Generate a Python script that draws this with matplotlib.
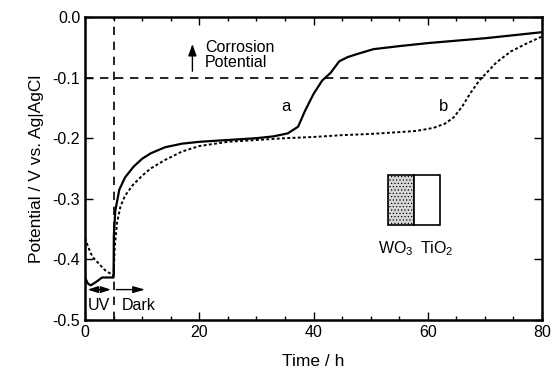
import numpy as np
import matplotlib.pyplot as plt
from matplotlib.ticker import MultipleLocator

plt.rcParams['font.family'] = ['Liberation Sans', 'DejaVu Sans']
plt.rcParams['mathtext.default'] = 'regular'
plt.rcParams['hatch.linewidth'] = 0.5

# Data
t_a = [0, 0.5, 1, 2, 3, 4, 5, 5.05, 5.3, 6, 7, 8.5, 10, 11.5, 14, 17, 20, 25, 30, 33, 35.5, 37.3,
       38.5, 40, 41.5, 43, 44.5, 46, 48, 50.5, 55, 60, 65, 70, 75, 80]
v_a = [-0.43, -0.44, -0.443, -0.437, -0.43, -0.43, -0.43, -0.36, -0.32, -0.285, -0.265, -0.247,
       -0.234, -0.225, -0.215, -0.209, -0.206, -0.203, -0.2, -0.197, -0.192, -0.181,
       -0.155, -0.127, -0.105, -0.092, -0.073, -0.066, -0.06, -0.053, -0.048, -0.043,
       -0.039, -0.035, -0.03, -0.025]

t_b = [0, 0.5, 1, 1.5, 2.5, 3.5, 4.5, 5, 5.2, 5.6, 6.2, 7, 8.4, 10, 11.5, 14, 17, 20, 25, 30, 35,
       40, 45, 50, 55, 58, 61, 63, 64.5, 66, 67.5, 69, 70.5, 72, 74.5, 77, 80]
v_b = [-0.365, -0.378, -0.39, -0.398, -0.408, -0.418, -0.424, -0.427, -0.38, -0.34, -0.313,
       -0.295, -0.277, -0.262, -0.25, -0.236, -0.222, -0.213, -0.206, -0.203, -0.2,
       -0.198, -0.195, -0.193, -0.19, -0.188, -0.183, -0.176, -0.166, -0.148, -0.125,
       -0.105, -0.09, -0.075, -0.057, -0.045, -0.032]

fig = plt.figure(figsize=(5.52, 3.79), dpi=100)
ax = fig.add_axes([0.154, 0.156, 0.828, 0.799])

ax.plot(t_a, v_a, color='black', lw=1.6)
ax.plot(t_b, v_b, color='black', lw=1.4, ls=(0, (1.5, 1.2)))

# reference lines
ax.axhline(-0.1, color='black', lw=1.2, ls=(0, (5, 4)))
ax.axvline(5, color='black', lw=1.2, ls=(0, (5, 4)))

# annotations
ax.annotate('', xy=(18.8, -0.04), xytext=(18.8, -0.094),
            arrowprops=dict(arrowstyle='-|>,head_width=0.25,head_length=0.7', color='black', lw=1))
ax.text(21, -0.062, 'Corrosion\nPotential', fontsize=11.5, va='center', ha='left', linespacing=1.0)

ax.annotate('', xy=(0, -0.45), xytext=(5, -0.45),
            arrowprops=dict(arrowstyle='<|-|>,head_width=0.2,head_length=0.6', color='black', lw=1))
ax.annotate('', xy=(11, -0.45), xytext=(5, -0.45),
            arrowprops=dict(arrowstyle='-|>,head_width=0.2,head_length=0.7', color='black', lw=1))
ax.text(2.5, -0.476, 'UV', fontsize=11.5, ha='center', va='center')
ax.text(6.5, -0.476, 'Dark', fontsize=11.5, ha='left', va='center')

ax.text(35.2, -0.147, 'a', fontsize=12, ha='center', va='center')
ax.text(62.7, -0.148, 'b', fontsize=12, ha='center', va='center')

# WO3 / TiO2 inset
ax.add_patch(plt.Rectangle((53, -0.343), 4.6, 0.082, facecolor='#d8d8d8', edgecolor='black',
                           lw=1.2, hatch='.....'))
ax.add_patch(plt.Rectangle((57.6, -0.343), 4.6, 0.082, facecolor='white', edgecolor='black', lw=1.2))
ax.text(54.4, -0.382, 'WO$_3$', fontsize=11.5, ha='center', va='center')
ax.text(61.6, -0.382, 'TiO$_2$', fontsize=11.5, ha='center', va='center')

ax.set_xlim(0, 80)
ax.set_ylim(-0.5, 0.0)
ax.xaxis.set_major_locator(MultipleLocator(20))
ax.xaxis.set_minor_locator(MultipleLocator(5))
ax.yaxis.set_major_locator(MultipleLocator(0.1))
ax.set_yticklabels(['%.1f' % v for v in ax.get_yticks()])
ax.tick_params(direction='in', top=True, right=True, which='both', labelsize=11.5)
ax.tick_params(which='major', length=6, width=1)
ax.tick_params(which='minor', length=3, width=1)
for s in ax.spines.values():
    s.set_linewidth(1.8)

ax.set_xlabel('Time / h', fontsize=12.5, labelpad=10)
ax.set_ylabel('Potential / V vs. Ag|AgCl', fontsize=12.5, labelpad=6)

fig.savefig('out.png', dpi=100)
